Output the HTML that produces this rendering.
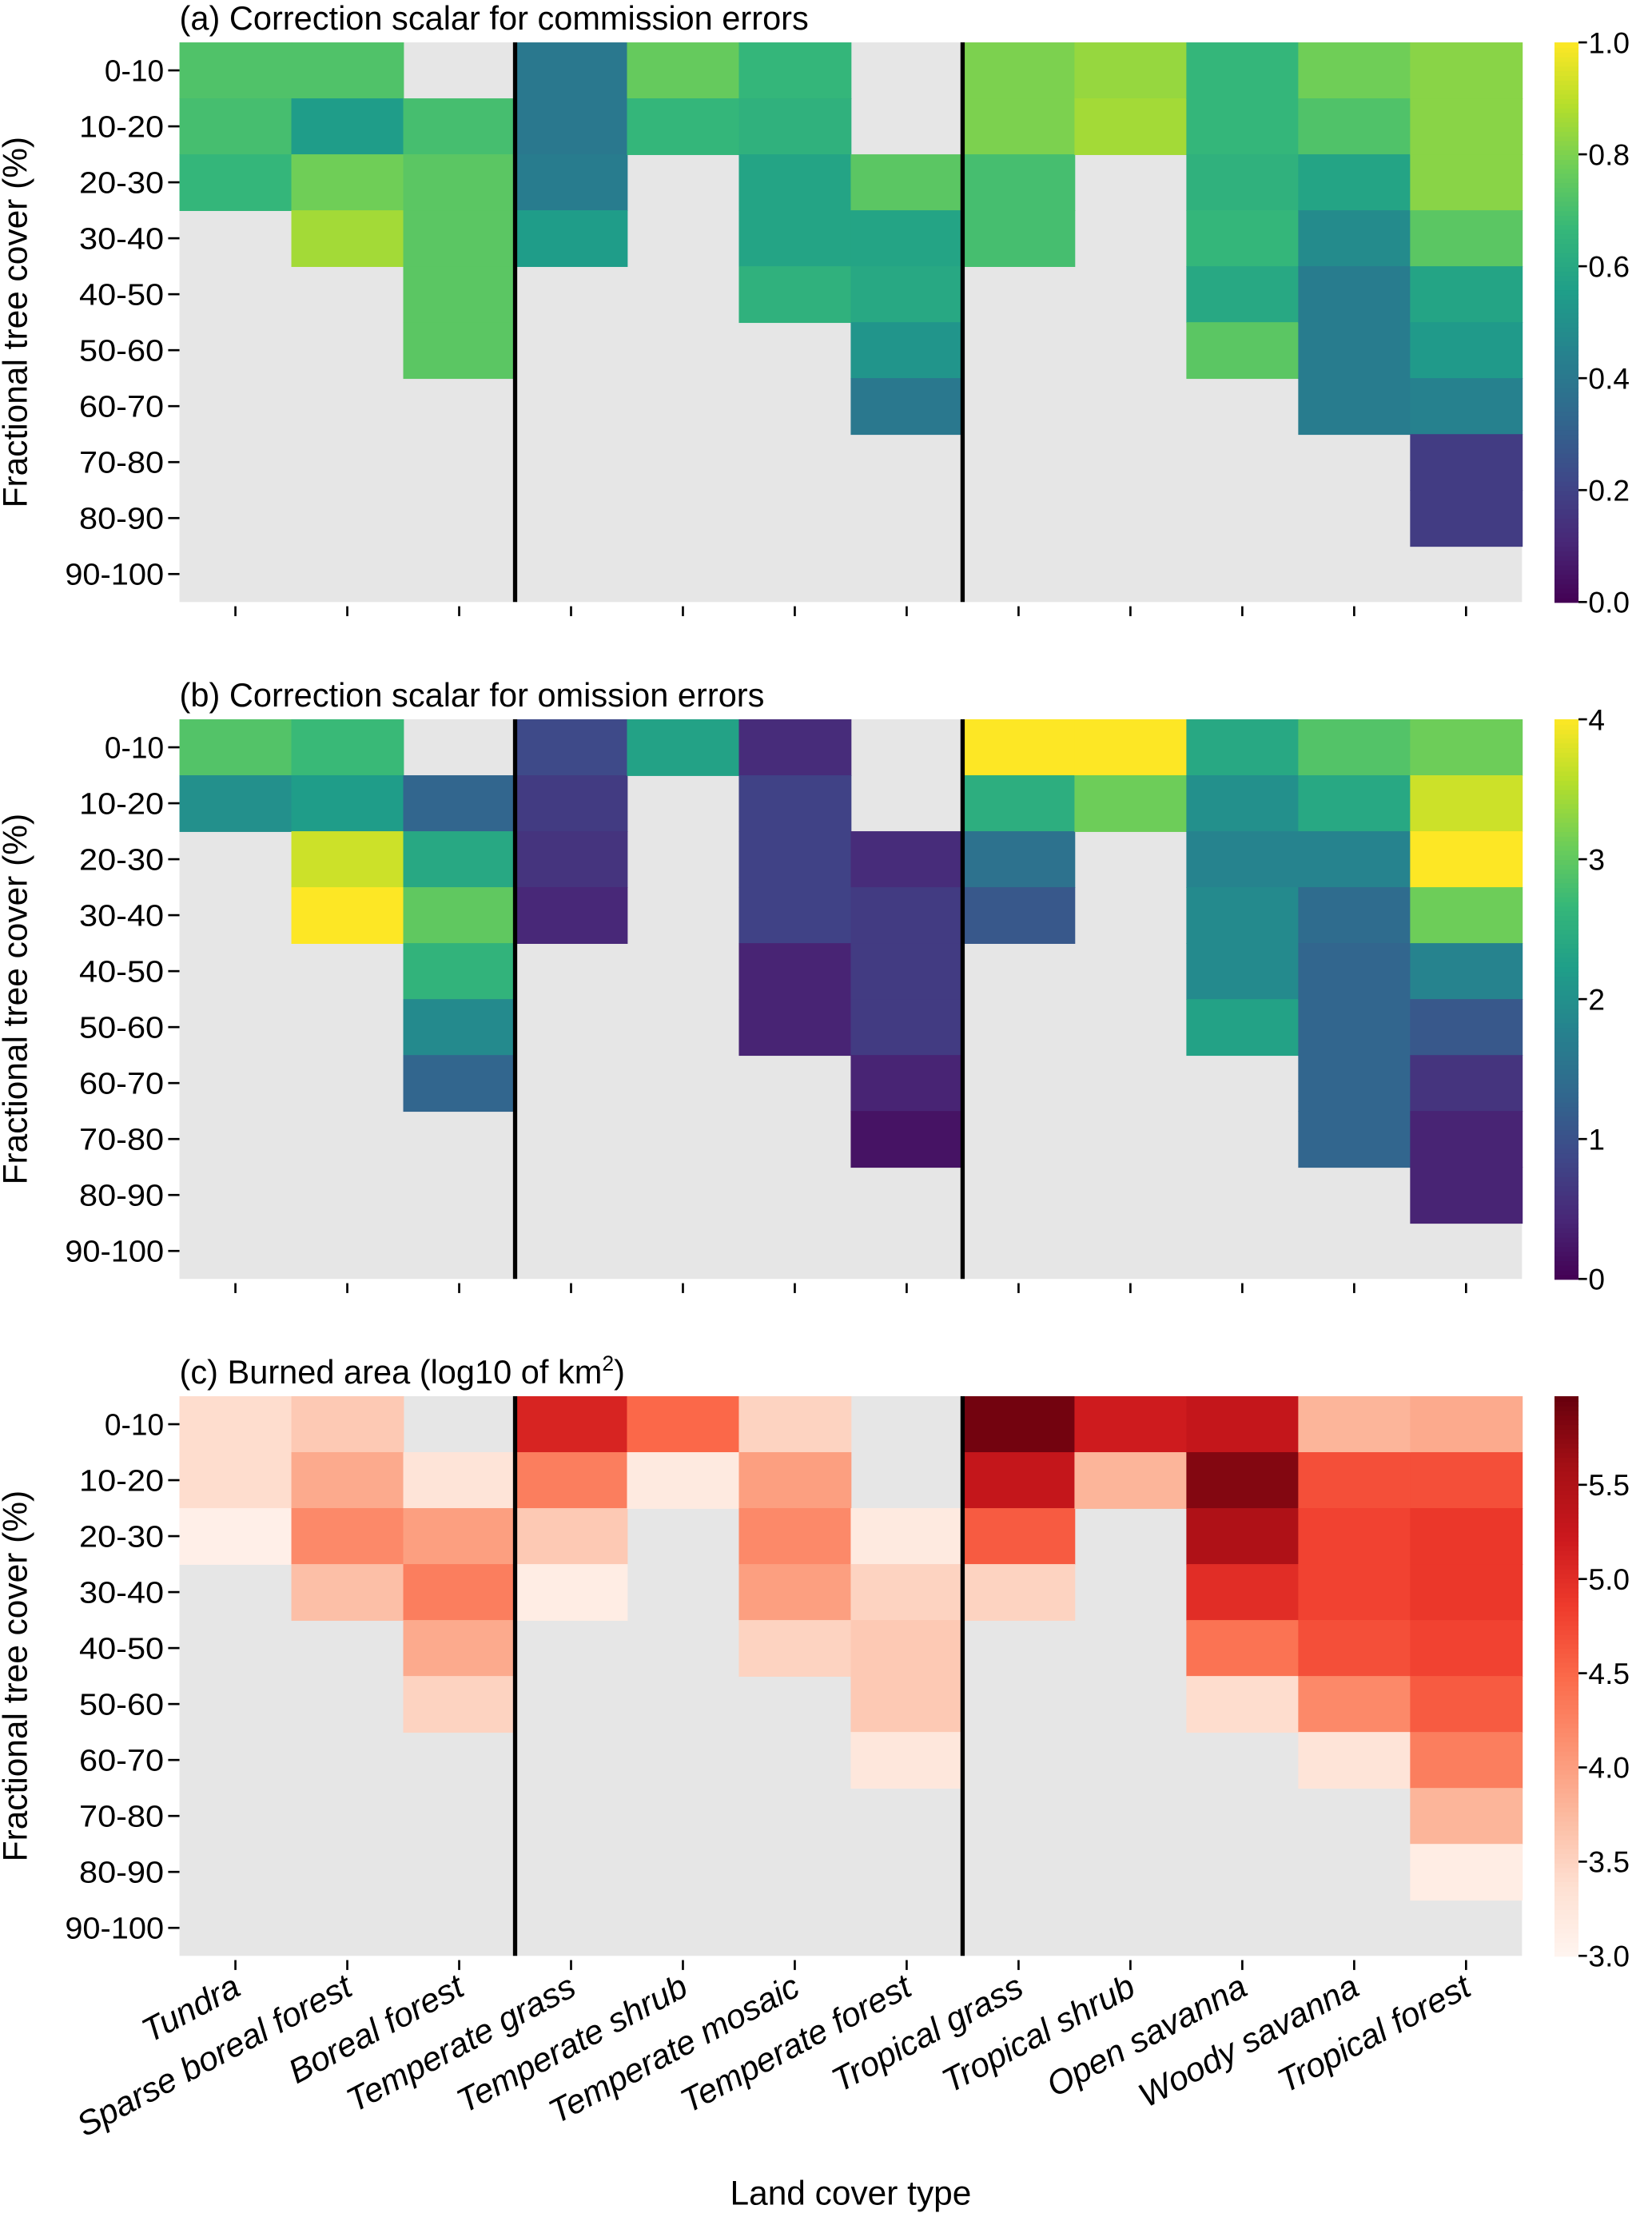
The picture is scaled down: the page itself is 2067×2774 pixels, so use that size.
<!DOCTYPE html>
<html><head><meta charset="utf-8"><style>
html,body{margin:0;padding:0;background:#fff;}
svg{display:block;font-family:"Liberation Sans",sans-serif;}
</style></head><body>
<svg id="fig" width="2067" height="2774" viewBox="0 0 1169 1568.8" preserveAspectRatio="none" xmlns="http://www.w3.org/2000/svg"></svg>
<script>
const categories=["Tundra","Sparse boreal forest","Boreal forest","Temperate grass","Temperate shrub","Temperate mosaic","Temperate forest","Tropical grass","Tropical shrub","Open savanna","Woody savanna","Tropical forest"];
const rowLabels=["0-10","10-20","20-30","30-40","40-50","50-60","60-70","70-80","80-90","90-100"];
const N=null;
const commissionValues=[
[0.72,0.70,0.66,N,N,N,N,N,N,N],
[0.72,0.55,0.78,0.86,N,N,N,N,N,N],
[N,0.70,0.74,0.74,0.74,0.74,N,N,N,N],
[0.40,0.40,0.42,0.55,N,N,N,N,N,N],
[0.76,0.66,N,N,N,N,N,N,N,N],
[0.66,0.64,0.58,0.58,0.64,N,N,N,N,N],
[N,N,0.74,0.58,0.60,0.52,0.40,N,N,N],
[0.80,0.80,0.70,0.70,N,N,N,N,N,N],
[0.84,0.86,N,N,N,N,N,N,N,N],
[0.66,0.66,0.64,0.66,0.60,0.74,N,N,N,N],
[0.78,0.72,0.58,0.48,0.42,0.42,0.42,N,N,N],
[0.82,0.82,0.82,0.74,0.58,0.54,0.44,0.18,0.18,N]];
const omissionValues=[
[2.9,2.0,N,N,N,N,N,N,N,N],
[2.7,2.2,3.7,4.0,N,N,N,N,N,N],
[N,1.3,2.4,3.0,2.6,1.9,1.3,N,N,N],
[0.9,0.7,0.6,0.45,N,N,N,N,N,N],
[2.3,N,N,N,N,N,N,N,N,N],
[0.5,0.8,0.8,0.8,0.4,0.4,N,N,N,N],
[N,N,0.5,0.7,0.7,0.7,0.4,0.2,N,N],
[4.0,2.5,1.5,1.1,N,N,N,N,N,N],
[4.0,3.1,N,N,N,N,N,N,N,N],
[2.4,2.0,1.8,1.9,1.9,2.3,N,N,N,N],
[2.9,2.4,1.8,1.4,1.3,1.3,1.3,1.3,N,N],
[3.1,3.7,4.0,3.1,1.8,1.1,0.6,0.4,0.4,N]];
const burnedValues=[
[3.4,3.4,3.1,N,N,N,N,N,N,N],
[3.6,3.9,4.2,3.7,N,N,N,N,N,N],
[N,3.3,4.0,4.3,3.9,3.5,N,N,N,N],
[5.1,4.3,3.6,3.15,N,N,N,N,N,N],
[4.5,3.2,N,N,N,N,N,N,N,N],
[3.5,4.0,4.2,4.0,3.5,N,N,N,N,N],
[N,N,3.2,3.5,3.6,3.6,3.25,N,N,N],
[5.9,5.3,4.6,3.5,N,N,N,N,N,N],
[5.2,3.8,N,N,N,N,N,N,N,N],
[5.3,5.8,5.5,5.0,4.4,3.4,N,N,N,N],
[3.8,4.7,4.8,4.8,4.7,4.2,3.3,N,N,N],
[3.9,4.7,4.9,4.9,4.8,4.6,4.3,3.8,3.15,N]];
const ticksA=[0.0,0.2,0.4,0.6,0.8,1.0];
const ticksB=[0,1,2,3,4];
const ticksC=[3.0,3.5,4.0,4.5,5.0,5.5];

const VIR=["#440154","#482878","#3e4989","#31688e","#26828e","#1f9e89","#35b779","#6ece58","#b5de2b","#fde725"];
const REDS=["#fff5f0","#fee0d2","#fcbba1","#fc9272","#fb6a4a","#ef3b2c","#cb181d","#a50f15","#67000d"];
function hx(h){return [1,3,5].map(i=>parseInt(h.substr(i,2),16));}
function cmap(stops,t){t=Math.max(0,Math.min(1,t));const p=t*(stops.length-1);const i=Math.min(Math.floor(p),stops.length-2);const f=p-i;const a=hx(stops[i]),b=hx(stops[i+1]);return "rgb("+a.map((v,k)=>Math.round(v+(b[k]-v)*f)).join(",")+")";}

const NS="http://www.w3.org/2000/svg";
const svg=document.getElementById('fig');
function el(tag,attrs,parent,text){const e=document.createElementNS(NS,tag);for(const k in attrs)e.setAttribute(k,attrs[k]);if(text!==undefined)e.textContent=text;(parent||svg).appendChild(e);return e;}

const X0=127,X1=1077,CW=(X1-X0)/12,PH=396,RH=PH/10;
const xCol=i=>X0+i*CW;
const CBX=1100,CBW=17;

function panel(key,top,vals,vmin,vmax,stops){
  const g=el('g',{},svg);
  
  
  const yRow=r=>top+r*RH;
  const bg=el('rect',{x:X0,y:top,width:X1-X0,height:PH,fill:'#e6e6e6'},g);
  
  
  const norm=v=>(v-vmin)/(vmax-vmin);
  vals.forEach((col,c)=>col.forEach((v,r)=>{
    if(v===null)return;
    const cell=el('rect',{x:xCol(c),y:yRow(r),width:CW+0.5,height:RH+0.5,fill:cmap(stops,norm(v))},g);
    
    
  }));
  [3,7].forEach(c=>{
    const l=el('line',{x1:xCol(c),x2:xCol(c),y1:top,y2:top+PH,stroke:'#000','stroke-width':3},g);
    
    
  });
  const t=el('text',{x:X0,y:top-9,'font-size':23.5,fill:'#000'},g);
  
  
  return {g,yRow,norm,top};
}
function rowAxis(p,key){
  rowLabels.forEach((lab,r)=>{
    const y=p.yRow(r)+RH/2;
    el('line',{x1:119,x2:127,y1:y,y2:y,stroke:'#000','stroke-width':1.5},p.g);
    const t=el('text',{x:116,y:y+7.5,'font-size':21.5,'text-anchor':'end',fill:'#000','textLength':lab.length>5?70:(lab.length>4?60:42),'lengthAdjust':'spacingAndGlyphs'},p.g,lab);
    
    
  });
  const yt=el('text',{x:0,y:0,'font-size':24,'text-anchor':'middle',fill:'#000',transform:`translate(19,${p.top+PH/2}) rotate(-90)`},p.g,'Fractional tree cover (%)');
  
  
  categories.forEach((c,i)=>{
    const x=xCol(i)+CW/2;
    el('line',{x1:x,x2:x,y1:p.top+PH+3,y2:p.top+PH+10,stroke:'#000','stroke-width':1.5},p.g);
  });
}
function colorbar(p,key,stops,ticks,fmt){
  const cb=el('g',{},p.g);
  
  
  const n=120;
  for(let i=0;i<n;i++){
    el('rect',{x:CBX,y:p.top+PH-(i+1)*PH/n,width:CBW,height:PH/n+0.6,fill:cmap(stops,(i+0.5)/n)},cb);
  }
  ticks.forEach(v=>{
    const y=p.top+PH-p.norm(v)*PH;
    el('line',{x1:CBX+CBW,x2:CBX+CBW+6,y1:y,y2:y,stroke:'#000','stroke-width':1.5},cb);
    const t=el('text',{x:CBX+CBW+7,y:y+7.5,'font-size':21,fill:'#000'},cb,fmt(v));
    
    
  });
}

const pa=panel('commission',30,commissionValues,0,1,VIR);
pa.g.querySelector('text').textContent='(a) Correction scalar for commission errors';
rowAxis(pa,'commission');colorbar(pa,'commission',VIR,ticksA,v=>v.toFixed(1));

const pb=panel('omission',509,omissionValues,0,4,VIR);
pb.g.querySelector('text').textContent='(b) Correction scalar for omission errors';
rowAxis(pb,'omission');colorbar(pb,'omission',VIR,ticksB,v=>String(v));

const pc=panel('burned',988,burnedValues,3,5.97,REDS);
const tc=pc.g.querySelector('text');
tc.textContent='(c) Burned area (log10 of km';
el('tspan',{'font-size':15,dy:-9},tc,'2');
el('tspan',{dy:9},tc,')');
rowAxis(pc,'burned');colorbar(pc,'burned',REDS,ticksC,v=>v.toFixed(1));

categories.forEach((c,i)=>{
  const x=xCol(i)+CW/2+5, y=pc.top+PH+27;
  const t=el('text',{x:0,y:0,'font-size':24,'text-anchor':'end','font-style':'italic',fill:'#000',transform:`translate(${x},${y}) rotate(-28)`},svg,c);
  
  
});
const xt=el('text',{x:602,y:1560,'font-size':24,'text-anchor':'middle',fill:'#000'},svg,'Land cover type');


</script>
</body></html>
